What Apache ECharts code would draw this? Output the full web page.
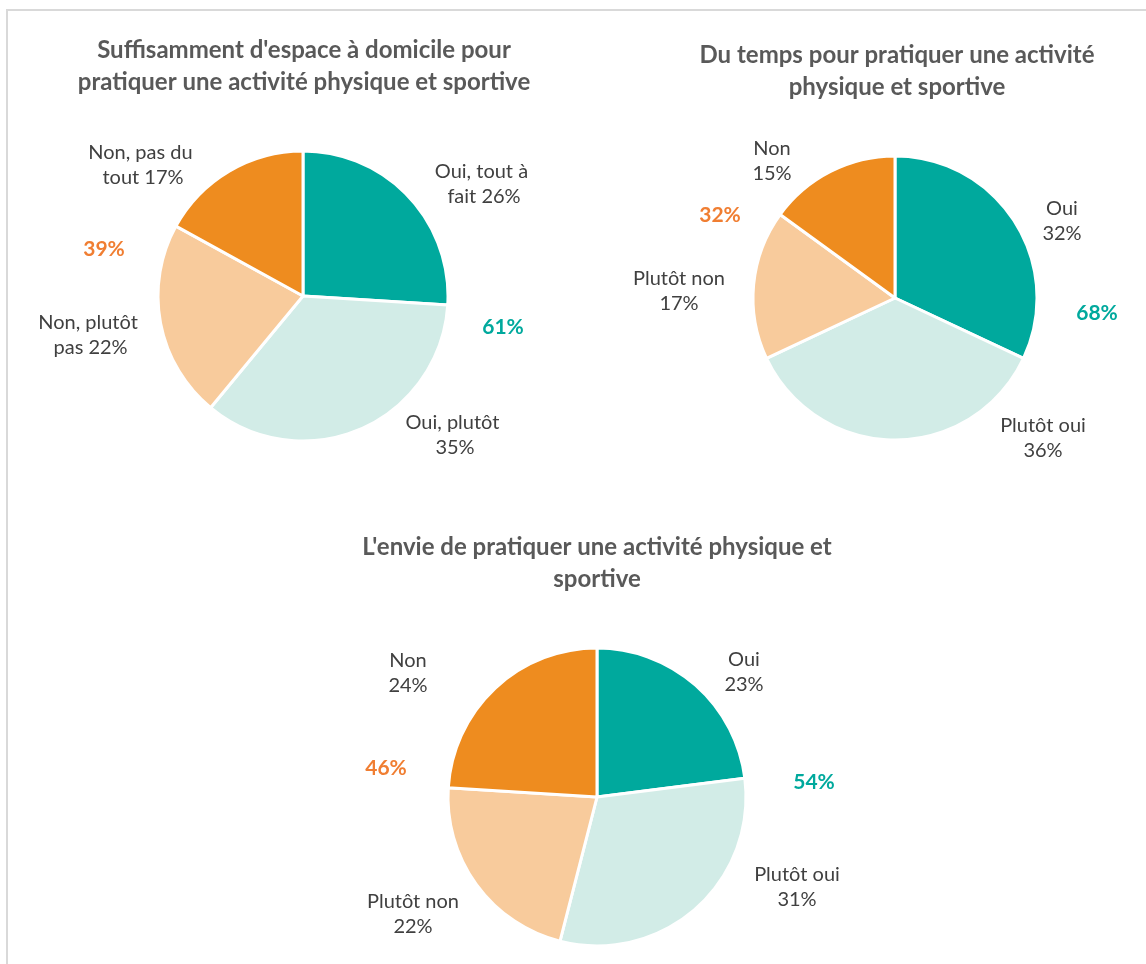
<!DOCTYPE html>
<html>
<head>
<meta charset="utf-8">
<script src="https://cdn.jsdelivr.net/npm/echarts@6/dist/echarts.min.js"></script>
<style>
html,body{margin:0;padding:0;background:#fff;}
#chart{width:1146px;height:964px;}
</style>
</head>
<body>
<div id="chart"></div>
<script>
// ---- Data ----
var titles = [
  "Suffisamment d'espace à domicile pour\npratiquer une activité physique et sportive",
  "Du temps pour pratiquer une activité\nphysique et sportive",
  "L'envie de pratiquer une activité physique et\nsportive"
];
var categories1 = ['Oui, tout à fait', 'Oui, plutôt', 'Non, plutôt pas', 'Non, pas du tout'];
var values1 = [26, 35, 22, 17];
var categories2 = ['Oui', 'Plutôt oui', 'Plutôt non', 'Non'];
var values2 = [32, 36, 17, 15];
var categories3 = ['Oui', 'Plutôt oui', 'Plutôt non', 'Non'];
var values3 = [23, 31, 22, 24];
var totalsYes = ['61%', '68%', '54%'];
var totalsNo = ['39%', '32%', '46%'];

// ---- Layout / style ----
var colors = ['#00A99D', '#D2ECE7', '#F8CB9C', '#EE8C1F'];
var labelColor = '#404040';
var font = 'Lato';
var pies = [
  {center: [303, 296], r: 145, titleX: 304, titleY: 34,
   labelOff: [[181, -112], [152, 139], [-215, 39], [-160, -131]],
   yesPos: [503, 327], noPos: [104, 249]},
  {center: [895, 298], r: 142, titleX: 897, titleY: 39,
   labelOff: [[167, -77], [148, 140], [-216, -7], [-123, -137]],
   yesPos: [1097, 313], noPos: [720, 215]},
  {center: [597, 797], r: 149, titleX: 597, titleY: 531,
   labelOff: [[147, -125], [200, 90], [-184, 117], [-189, -124]],
   yesPos: [814, 782], noPos: [386, 768]}
];
var dataSets = [
  {cats: categories1, vals: values1},
  {cats: categories2, vals: values2},
  {cats: categories3, vals: values3}
];

function makeSeries(i) {
  var p = pies[i];
  var ds = dataSets[i];
  return {
    type: 'pie',
    center: p.center,
    radius: [0, p.r],
    startAngle: 90,
    clockwise: true,
    animation: false,
    silent: true,
    data: ds.cats.map(function (c, k) {
      return {name: c, value: ds.vals[k], itemStyle: {color: colors[k]}};
    }),
    itemStyle: {borderColor: '#ffffff', borderWidth: 3},
    label: {
      show: true,
      position: 'outside',
      color: labelColor,
      fontFamily: font,
      fontSize: 20,
      lineHeight: 25,
      formatter: i === 0
        ? function (prm) { return prm.name + ' ' + prm.value + '%'; }
        : function (prm) { return prm.name + '\n' + prm.value + '%'; },
      width: i === 0 ? 112 : undefined,
      overflow: i === 0 ? 'break' : 'none'
    },
    labelLine: {show: false},
    labelLayout: function (prm) {
      var off = p.labelOff[prm.dataIndex];
      return {x: p.center[0] + off[0], y: p.center[1] + off[1], align: 'center', verticalAlign: 'middle'};
    }
  };
}

var chart = echarts.init(document.getElementById('chart'), null, {renderer: 'canvas'});
var graphics = [{
  type: 'rect', silent: true, z: -1,
  shape: {x: 7, y: 10, width: 1300, height: 1100},
  style: {fill: 'none', stroke: '#D9D9D9', lineWidth: 2}
}];
pies.forEach(function (p, i) {
  graphics.push({type: 'text', x: p.yesPos[0], y: p.yesPos[1], silent: true,
    style: {text: totalsYes[i], fill: '#00A99D', font: 'bold 21px ' + font, align: 'center', verticalAlign: 'middle'}});
  graphics.push({type: 'text', x: p.noPos[0], y: p.noPos[1], silent: true,
    style: {text: totalsNo[i], fill: '#F07E32', font: 'bold 21px ' + font, align: 'center', verticalAlign: 'middle'}});
});

chart.setOption({
  backgroundColor: '#ffffff',
  animation: false,
  title: pies.map(function (p, i) {
    return {
      text: titles[i], left: p.titleX, top: p.titleY, textAlign: 'center', padding: 0,
      textStyle: {fontFamily: font, fontWeight: 'bold', fontSize: 24, lineHeight: 32, color: '#595959'}
    };
  }),
  series: [makeSeries(0), makeSeries(1), makeSeries(2)],
  graphic: graphics
});
</script>
</body>
</html>
